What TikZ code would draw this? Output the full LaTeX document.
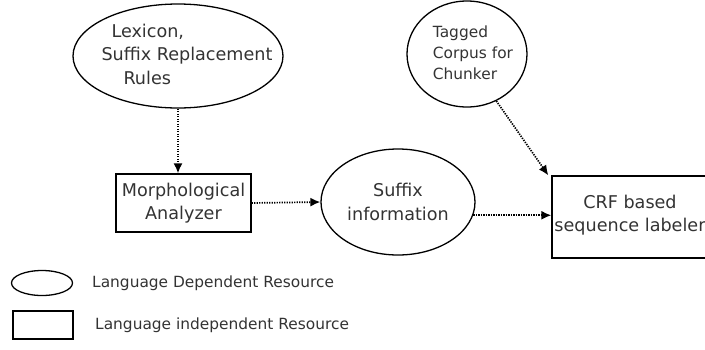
\documentclass[tikz,border=0pt]{standalone}
\usepackage{fontspec}
\setmainfont{DejaVu Sans}
\usepackage{tikz,xcolor}
\usetikzlibrary{shapes.geometric,arrows.meta}
\tikzstyle{res} = [ellipse, draw, line width=1.3pt, inner sep=0pt, text=black!80]
\tikzset{tool/.style={rectangle, draw, line width=1.3pt, inner sep=0pt, align=center, text=black!80},
    flow/.style={line width=1.7pt, dash pattern=on 1.3pt off 1.2pt, -{Latex[length=10pt,width=9pt]}},
    big/.style={font=\fontsize{17.6}{23.5}\selectfont}}
\begin{document}
\begin{tikzpicture}[x=1pt,y=-1pt,font=\fontsize{15.4}{23.5}\selectfont]
    \useasboundingbox (0,0) rectangle (705,349);
    \clip (0,0) rectangle (705,349);
    % resources
    \node[res, big, minimum width=210pt, minimum height=104pt, inner xsep=-24pt] (lex) at (178,56)
        {\begin{tabular}{@{}l@{}}\hspace*{28pt}Lexicon,\\\hspace*{18pt}Suffix Replacement\\\hspace*{40pt}Rules\end{tabular}};
    \node[res, minimum width=120pt, minimum height=106pt, inner xsep=-10pt,
        font=\fontsize{15.4}{21}\selectfont] (cor) at (467,54)
        {\raisebox{10pt}{\begin{tabular}{@{\hspace{12pt}}l@{}}Tagged\\Corpus for\\Chunker\end{tabular}}};
    \node[res, big, minimum width=154pt, minimum height=106pt, align=center] (suf) at (398,202)
        {Suffix\\information};
    % tools
    \node[tool, big, minimum width=135pt, minimum height=58pt] (morph) at (183.5,203)
        {Morphological\\Analyzer};
    \node[tool, minimum width=172pt, minimum height=82pt] (crf) at (638,217) {};
    \node[big, align=center, text=black!80] (crftext) at (630,215) {CRF based\\sequence labeler};
    %
    \draw[flow] (lex.south) -- (lex.south |- morph.north);
    \draw[flow] (morph.east) -- (suf.west);
    \draw[flow] (suf.-10) -- (suf.-10 -| crf.west);
    \draw[flow] (cor.-58) -- ([xshift=-3pt]crf.north west);
    % legend
    \node[res, minimum width=61pt, minimum height=25pt] (keyres) at (42,283) {};
    \node[tool, minimum width=60pt, minimum height=28pt] (keytool) at (43,325) {};
    \node[anchor=west, inner sep=0pt, text=black!80] (keyrestext) at (92,283) {Language Dependent Resource};
    \node[anchor=west, inner sep=0pt, text=black!80] (keytooltext) at (95,325) {Language independent Resource};
\end{tikzpicture}
\end{document}
